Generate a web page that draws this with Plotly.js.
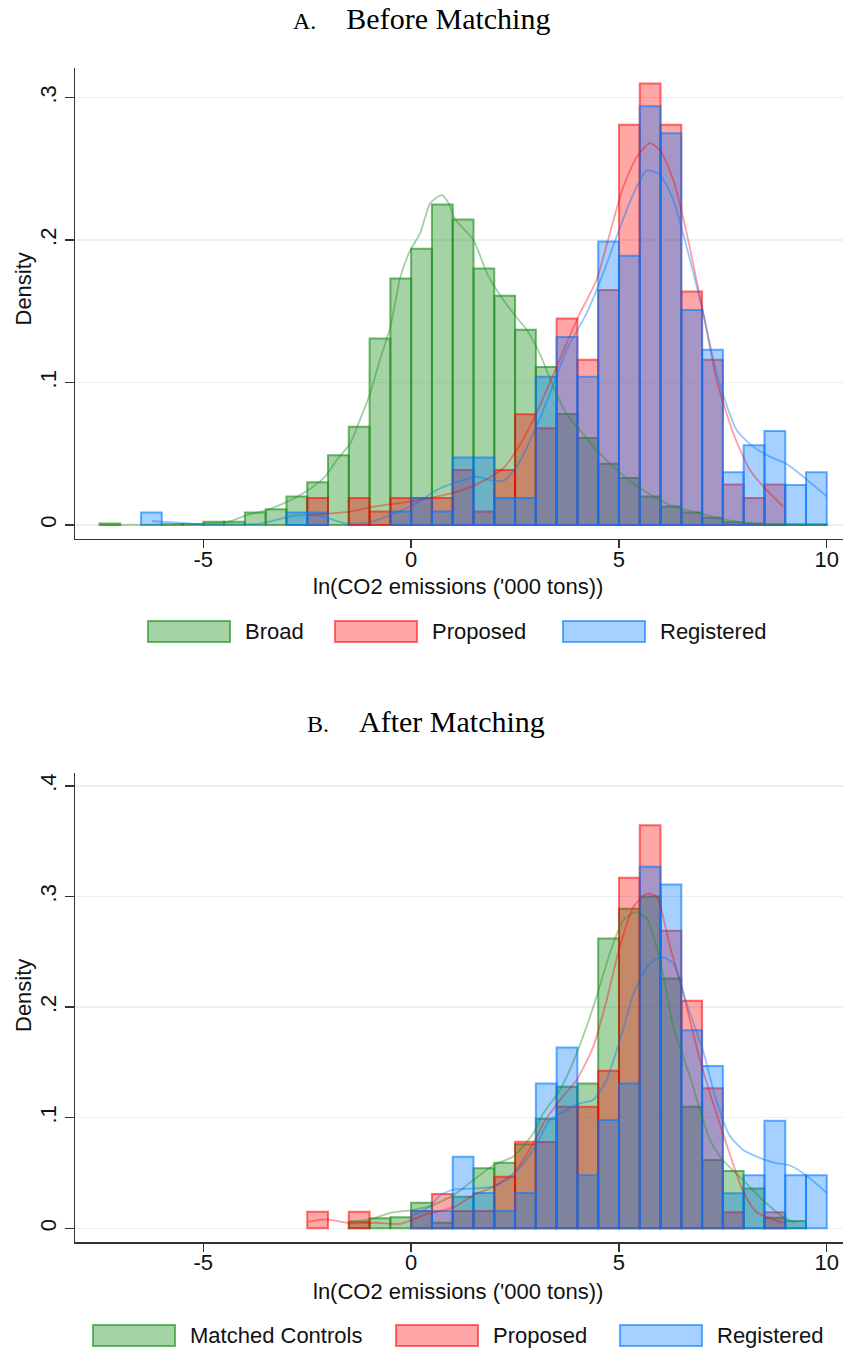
<!DOCTYPE html>
<html>
<head>
<meta charset="utf-8">
<script src="https://cdn.plot.ly/plotly-3.0.1.min.js"></script>
<style>
  html, body { margin: 0; padding: 0; background: #ffffff; }
  #chart { width: 844px; height: 1349px; }
</style>
</head>
<body>
<div id="chart"></div>
<script>
// Histogram bins: width 0.5 from -7.5 to 10 (bin centres)
const binCenters = [-7.25, -6.75, -6.25, -5.75, -5.25, -4.75, -4.25, -3.75, -3.25, -2.75,
                    -2.25, -1.75, -1.25, -0.75, -0.25, 0.25, 0.75, 1.25, 1.75, 2.25,
                    2.75, 3.25, 3.75, 4.25, 4.75, 5.25, 5.75, 6.25, 6.75, 7.25,
                    7.75, 8.25, 8.75, 9.25, 9.75];

// Panel A: before matching (density per bin)
const beforeBroad = [0.001, 0, 0, 0.0005, 0.0005, 0.0023, 0.0023, 0.0087, 0.011, 0.020,
                     0.030, 0.049, 0.069, 0.131, 0.173, 0.194, 0.225, 0.2145, 0.180, 0.161,
                     0.137, 0.111, 0.078, 0.061, 0.043, 0.033, 0.020, 0.013, 0.0087, 0.005,
                     0.002, 0.001, 0.0005, 0.0005, 0.0005];
const beforeProposed = [0, 0, 0, 0, 0, 0, 0, 0, 0, 0,
                        0.019, 0, 0.019, 0.0094, 0.019, 0.019, 0.019, 0.0386, 0.0094, 0.0386,
                        0.0777, 0.068, 0.145, 0.116, 0.165, 0.281, 0.310, 0.281, 0.164, 0.116,
                        0.0285, 0.019, 0.0285, 0, 0];
const beforeRegistered = [0, 0, 0.0087, 0, 0, 0, 0, 0, 0, 0.0087,
                          0.0087, 0, 0, 0, 0.0094, 0.019, 0.0094, 0.0473, 0.0473, 0.019,
                          0.019, 0.104, 0.132, 0.104, 0.199, 0.189, 0.294, 0.275, 0.151, 0.123,
                          0.037, 0.056, 0.066, 0.028, 0.037];

// Panel B: after matching (density per bin)
const afterMatched = [0, 0, 0, 0, 0, 0, 0, 0, 0, 0,
                      0, 0, 0.006, 0.009, 0.0099, 0.023, 0.005, 0.0286, 0.0542, 0.0593,
                      0.076, 0.099, 0.128, 0.131, 0.262, 0.289, 0.300, 0.226, 0.110, 0.0618,
                      0.0518, 0.036, 0.0096, 0.0066, 0];
const afterProposed = [0, 0, 0, 0, 0, 0, 0, 0, 0, 0,
                       0.015, 0, 0.015, 0, 0, 0.0156, 0.031, 0.0156, 0.0156, 0.0467,
                       0.0783, 0.078, 0.110, 0.110, 0.1425, 0.317, 0.3645, 0.269, 0.2057, 0.1266,
                       0.0145, 0, 0.0145, 0, 0];
const afterRegistered = [0, 0, 0, 0, 0, 0, 0, 0, 0, 0,
                         0, 0, 0, 0, 0, 0.0156, 0.0156, 0.0648, 0.032, 0.0156,
                         0.032, 0.131, 0.1636, 0.048, 0.098, 0.131, 0.327, 0.311, 0.179, 0.1467,
                         0.0316, 0.048, 0.0973, 0.048, 0.048];

// Kernel density curves, panel A
const beforeBroadKdeX = [-7.48, -5, -4.43, -3.95, -3.47, -2.9, -2.47, -2.07, -1.79, -1.47, -1.23, -0.99, -0.75, -0.5,
                         -0.26, -0.02, 0.22, 0.46, 0.74, 0.9, 1.06, 1.5, 1.82, 2.1, 2.46, 2.78, 3.1, 3.42, 3.74,
                         4.06, 4.46, 4.86, 5.35, 5.83, 6.31, 6.95, 7.5, 8.3, 10];
const beforeBroadKdeY = [0, 0.001, 0.002, 0.007, 0.0105, 0.0175, 0.0246, 0.034, 0.0456, 0.057, 0.074, 0.092, 0.116, 0.139,
                         0.174, 0.193, 0.205, 0.226, 0.2316, 0.226, 0.2145, 0.2, 0.177, 0.163, 0.1485, 0.137, 0.120, 0.097, 0.078,
                         0.0667, 0.0526, 0.041, 0.029, 0.020, 0.0129, 0.0082, 0.004, 0.001, 0];
const beforeProposedKdeX = [-2.47, -1.47, -0.83, -0.02, 0.78, 1.18, 1.74, 2.22, 2.54, 2.94, 3.26, 3.74, 4.06, 4.46,
                            4.78, 5.1, 5.42, 5.74, 5.99, 6.31, 6.63, 7.03, 7.35, 7.75, 8.15, 8.55, 8.95];
const beforeProposedKdeY = [0.007, 0.0094, 0.0133, 0.0164, 0.021, 0.024, 0.031, 0.04, 0.0526, 0.074, 0.0947, 0.1275, 0.1485, 0.172,
                            0.2047, 0.237, 0.258, 0.268, 0.263, 0.242, 0.2047, 0.1485, 0.1018, 0.0643, 0.0386, 0.0246, 0.0129];
const beforeRegisteredKdeX = [-6.23, -5, -3.63, -2.9, -2.27, -1.55, -0.99, -0.42, 0.06, 0.62, 1.18, 1.58, 1.9, 2.22,
                              2.54, 2.94, 3.34, 3.74, 4.22, 4.62, 4.94, 5.35, 5.67, 5.99, 6.31, 6.63, 7.03, 7.35,
                              7.83, 8.23, 8.63, 9.03, 9.43, 10];
const beforeRegisteredKdeY = [0.0028, 0.0005, 0.001, 0.006, 0.007, 0.001, 0.002, 0.008, 0.014, 0.0246, 0.031, 0.034, 0.0316, 0.031,
                              0.041, 0.0643, 0.0924, 0.123, 0.1485, 0.1766, 0.2023, 0.2327, 0.249, 0.2456, 0.228, 0.195, 0.1485, 0.1064,
                              0.0667, 0.055, 0.048, 0.043, 0.034, 0.020];

// Kernel density curves, panel B
const afterMatchedKdeX = [-1.47, -0.99, -0.5, 0, 0.46, 1.02, 1.5, 1.98, 2.46, 2.94, 3.18, 3.58, 3.98, 4.38,
                          4.78, 5.1, 5.42, 5.67, 5.99, 6.31, 6.71, 7.19, 7.5, 7.98, 8.46, 8.94, 9.26];
const afterMatchedKdeY = [0.006, 0.008, 0.014, 0.0165, 0.020, 0.030, 0.0437, 0.057, 0.065, 0.086, 0.104, 0.125, 0.158, 0.2,
                          0.2485, 0.2786, 0.286, 0.280, 0.2425, 0.182, 0.137, 0.080, 0.0618, 0.0437, 0.0256, 0.0105, 0.005];
const afterProposedKdeX = [-2.47, -2.03, -1.47, -0.83, -0.26, 0.3, 1.02, 1.5, 1.98, 2.46, 2.94, 3.18, 3.58, 3.98, 4.38,
                           4.70, 5.02, 5.35, 5.67, 5.91, 6.23, 6.55, 6.95, 7.5, 7.98, 8.3, 8.95];
const afterProposedKdeY = [0.006, 0.008, 0.0045, 0.005, 0.004, 0.012, 0.019, 0.030, 0.0376, 0.0497, 0.077, 0.0949, 0.116, 0.134, 0.164,
                           0.206, 0.2545, 0.2907, 0.3027, 0.2997, 0.2545, 0.212, 0.152, 0.086, 0.034, 0.015, 0.005];
const afterRegisteredKdeX = [0.06, 0.46, 0.70, 1.02, 1.5, 1.98, 2.46, 2.94, 3.34, 3.74, 4.06, 4.38, 4.70, 5.02, 5.35,
                             5.67, 5.99, 6.31, 6.63, 7.02, 7.34, 7.66, 7.98, 8.3, 8.78, 9.1, 9.5, 10];
const afterRegisteredKdeY = [0.012, 0.02, 0.03, 0.035, 0.036, 0.0377, 0.048, 0.071, 0.098, 0.107, 0.113, 0.116, 0.134, 0.170, 0.212,
                             0.2364, 0.2455, 0.2395, 0.203, 0.161, 0.116, 0.084, 0.071, 0.065, 0.059, 0.057, 0.048, 0.032];

// Axis ticks and labels
const xTickVals = [-5, 0, 5, 10];
const xTickText = ['-5', '0', '5', '10'];
const topYTickVals = [0, 0.1, 0.2, 0.3];
const topYTickText = ['0', '.1', '.2', '.3'];
const botYTickVals = [0, 0.1, 0.2, 0.3, 0.4];
const botYTickText = ['0', '.1', '.2', '.3', '.4'];
const xTitle = "ln(CO2 emissions ('000 tons))";
const yTitle = 'Density';
const panelLetters = ['A.', 'B.'];
const panelNames = ['Before Matching', 'After Matching'];
const topLegendNames = ['Broad', 'Proposed', 'Registered'];
const botLegendNames = ['Matched Controls', 'Proposed', 'Registered'];

// Styling
const W = 844, H = 1349;
const fills = ['rgba(30,145,30,0.4)', 'rgba(255,0,0,0.35)', 'rgba(0,120,255,0.35)'];
const edges = ['rgba(30,145,30,0.65)', 'rgba(255,0,0,0.55)', 'rgba(0,120,255,0.6)'];
const kdeColors = ['rgba(30,145,30,0.42)', 'rgba(255,0,0,0.38)', 'rgba(0,120,255,0.42)'];
const sans = 'Liberation Sans, Arial, sans-serif';
const serif = 'Liberation Serif, Times New Roman, serif';
const inkColor = '#111111';
const axisColor = '#333333';
const gridColor = 'rgb(234,241,243)';

const px = v => v / W;            // horizontal pixel -> paper
const py = v => 1 - v / H;        // vertical pixel -> paper

// Empty bins are left out so that no outline is stroked along the baseline
function barTrace(y, i, xa, ya) {
  return {
    type: 'bar', x: binCenters, y: y.map(v => (v === 0 ? null : v)), width: 0.5,
    xaxis: xa, yaxis: ya, showlegend: false, hoverinfo: 'skip',
    marker: { color: fills[i], line: { color: edges[i], width: 2 } }
  };
}
function kdeTrace(x, y, i, xa, ya) {
  return {
    type: 'scatter', mode: 'lines', x: x, y: y,
    xaxis: xa, yaxis: ya, showlegend: false, hoverinfo: 'skip',
    line: { color: kdeColors[i], width: 1.8, shape: 'spline', smoothing: 0.6 }
  };
}

const traces = [
  barTrace(beforeBroad, 0, 'x', 'y'),
  barTrace(beforeProposed, 1, 'x', 'y'),
  barTrace(beforeRegistered, 2, 'x', 'y'),
  kdeTrace(beforeBroadKdeX, beforeBroadKdeY, 0, 'x', 'y'),
  kdeTrace(beforeProposedKdeX, beforeProposedKdeY, 1, 'x', 'y'),
  kdeTrace(beforeRegisteredKdeX, beforeRegisteredKdeY, 2, 'x', 'y'),
  barTrace(afterMatched, 0, 'x2', 'y2'),
  barTrace(afterProposed, 1, 'x2', 'y2'),
  barTrace(afterRegistered, 2, 'x2', 'y2'),
  kdeTrace(afterMatchedKdeX, afterMatchedKdeY, 0, 'x2', 'y2'),
  kdeTrace(afterProposedKdeX, afterProposedKdeY, 1, 'x2', 'y2'),
  kdeTrace(afterRegisteredKdeX, afterRegisteredKdeY, 2, 'x2', 'y2')
];

function xAxis(anchor) {
  return {
    domain: [px(75.3), px(843)], range: [-8.08, 10.39], anchor: anchor,
    showline: true, linecolor: axisColor, linewidth: 1.3, mirror: false,
    showgrid: false, zeroline: false,
    ticks: 'outside', ticklen: 8, tickwidth: 1.3, tickcolor: axisColor,
    ticklabelstandoff: -8,
    tickvals: xTickVals, ticktext: xTickText,
    tickfont: { family: sans, size: 22, color: inkColor }
  };
}
function yAxis(anchor, domain, range, vals, text) {
  return {
    domain: domain, range: range, anchor: anchor,
    showline: true, linecolor: axisColor, linewidth: 1.3, mirror: false,
    showgrid: true, gridcolor: gridColor, gridwidth: 1.5, zeroline: false,
    ticks: 'outside', ticklen: 9, tickwidth: 1.3, tickcolor: axisColor,
    tickvals: vals, ticktext: text, tickangle: -90,
    tickfont: { family: sans, size: 22, color: inkColor }
  };
}

const annotations = [];
const shapes = [];

// Panel titles
const titleCentres = [[421.5, 19], [425.5, 721]];
titleCentres.forEach((c, k) => {
  annotations.push({
    xref: 'paper', yref: 'paper', x: px(c[0]), y: py(c[1]),
    xanchor: 'center', yanchor: 'middle', showarrow: false,
    text: '<span style="font-size:24px">' + panelLetters[k] + '</span>\u00a0\u00a0\u00a0\u00a0' + panelNames[k],
    font: { family: serif, size: 30, color: '#000000' }
  });
});

// Axis titles
[[586, 289.5], [1291, 996]].forEach(p => {
  annotations.push({
    xref: 'paper', yref: 'paper', x: px(458), y: py(p[0]),
    xanchor: 'center', yanchor: 'middle', showarrow: false,
    text: xTitle, font: { family: sans, size: 22, color: inkColor }
  });
  annotations.push({
    xref: 'paper', yref: 'paper', x: px(23), y: py(p[1]),
    xanchor: 'center', yanchor: 'middle', showarrow: false, textangle: -90,
    text: yTitle, font: { family: sans, size: 22, color: inkColor }
  });
});

// Legend keys
function legendRow(names, boxLefts, top) {
  names.forEach((name, i) => {
    shapes.push({
      type: 'rect', xref: 'paper', yref: 'paper',
      x0: px(boxLefts[i]), x1: px(boxLefts[i] + 82), y0: py(top + 21), y1: py(top),
      fillcolor: fills[i], line: { color: edges[i], width: 2 }
    });
    annotations.push({
      xref: 'paper', yref: 'paper', x: px(boxLefts[i] + 95), y: py(top + 10.5),
      xanchor: 'left', yanchor: 'middle', showarrow: false,
      text: name, font: { family: sans, size: 22, color: inkColor }
    });
  });
}
legendRow(topLegendNames, [148, 335, 563], 621);
legendRow(botLegendNames, [93, 396, 620], 1325);

const layout = {
  width: W, height: H, autosize: false,
  margin: { l: 0, r: 0, t: 0, b: 0, pad: 0 },
  paper_bgcolor: '#ffffff', plot_bgcolor: '#ffffff',
  barmode: 'overlay', bargap: 0,
  showlegend: false,
  xaxis: xAxis('y'),
  yaxis: yAxis('x', [py(539), py(68.3)], [-0.00983, 0.3206], topYTickVals, topYTickText),
  xaxis2: xAxis('y2'),
  yaxis2: yAxis('x2', [py(1242.3), py(772.7)], [-0.01266, 0.412], botYTickVals, botYTickText),
  annotations: annotations,
  shapes: shapes
};

Plotly.newPlot('chart', traces, layout, { staticPlot: true, displayModeBar: false });
</script>
</body>
</html>
